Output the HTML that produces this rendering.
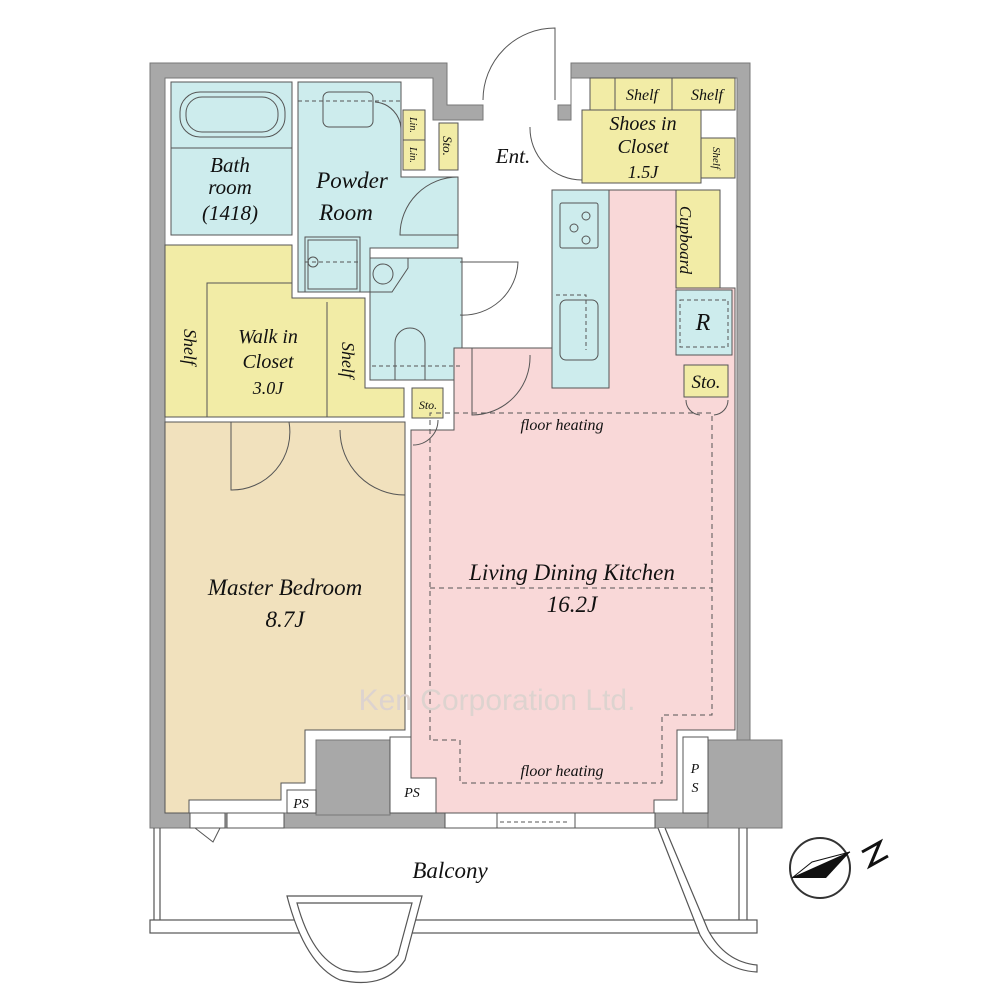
<!DOCTYPE html>
<html><head><meta charset="utf-8"><style>
html,body{margin:0;padding:0;background:#fff;}
svg{display:block;}
text{font-family:"Liberation Serif",serif;font-style:italic;fill:#111;}
</style></head><body>
<svg width="1000" height="1000" viewBox="0 0 1000 1000" xmlns="http://www.w3.org/2000/svg">
<!-- outer walls -->
<g fill="#a8a8a8" stroke="#777" stroke-width="1">
<path d="M150,63 H447 V105 H483 V120 H433 V78 H165 V813 H190 V828 H150 Z"/>
<path d="M558,120 V105 H571 V63 H750 V740 H782 V828 H655 V813 H737 V78 H571 V120 Z"/>
<rect x="190" y="813" width="465" height="15"/>
<rect x="316" y="740" width="74" height="75"/>
<rect x="708" y="740" width="74" height="88"/>
</g>
<!-- windows on bottom wall -->
<g fill="#fff" stroke="#555" stroke-width="1">
<rect x="190" y="813" width="35" height="15"/><rect x="227" y="813" width="57" height="15"/>
<rect x="445" y="813" width="52" height="15"/><rect x="497" y="813" width="78" height="15"/><rect x="575" y="813" width="80" height="15"/>
</g>
<line x1="500" y1="822" x2="570" y2="822" stroke="#555" stroke-dasharray="4,3"/>
<!-- rooms -->
<g stroke="#555" stroke-width="1">
<rect x="171" y="82" width="121" height="153" fill="#cdeced"/>
<line x1="171" y1="148" x2="292" y2="148"/>
<path d="M298,82 H401 V177 H458 V248 H370 V292 H298 Z" fill="#cdeced"/>
<rect x="305" y="237" width="55" height="55" fill="#cdeced"/>
<rect x="308" y="240" width="49" height="49" fill="none"/>
<rect x="370" y="258" width="92" height="122" fill="#cdeced"/>
<path d="M165,245 H292 V298 H365 V388 H404 V417 H165 Z" fill="#f2eca6"/>
<path d="M207,417 V283 H292 M327,302 V417" fill="none"/>
<path d="M165,422 H405 V730 H305 V783 H281 V800 H189 V813 H165 Z" fill="#f1e1bd"/>
<rect x="287" y="790" width="29" height="23" fill="#fff"/>
<path d="M390,737 H411 V778 H436 V813 H390 Z" fill="#fff"/>
<path d="M454,348 H552 V190 H676 V288 H735 V730 H677 V800 H654 V813 H436 V778 H411 V430 H454 Z" fill="#f9d8d8"/>
<rect x="683" y="737" width="25" height="76" fill="#fff"/>
<rect x="552" y="190" width="57" height="198" fill="#cdeced"/>
<rect x="676" y="190" width="44" height="98" fill="#f2eca6"/>
<rect x="676" y="290" width="56" height="65" fill="#cdeced"/>
<rect x="684" y="365" width="44" height="32" fill="#f2eca6"/>
<rect x="412" y="388" width="31" height="30" fill="#f2eca6"/>
<rect x="590" y="78" width="145" height="32" fill="#f2eca6"/>
<line x1="615" y1="78" x2="615" y2="110"/><line x1="672" y1="78" x2="672" y2="110"/>
<rect x="582" y="110" width="119" height="73" fill="#f2eca6"/>
<rect x="701" y="138" width="34" height="40" fill="#f2eca6"/>
<rect x="403" y="110" width="22" height="60" fill="#f2eca6"/>
<line x1="403" y1="140" x2="425" y2="140"/>
<rect x="439" y="123" width="19" height="47" fill="#f2eca6"/>
</g>
<!-- fixtures -->
<g fill="none" stroke="#555" stroke-width="1">
<rect x="180" y="92" width="105" height="45" rx="20"/><rect x="186" y="97" width="92" height="35" rx="16"/>
<rect x="323" y="92" width="50" height="35" rx="6"/>
<line x1="298" y1="101" x2="401" y2="101" stroke-dasharray="4,3"/>
<circle cx="313" cy="262" r="5"/><line x1="305" y1="262" x2="360" y2="262" stroke-dasharray="4,3"/>
<path d="M370,258 H408 V268 L392,292 H370 Z"/>
<circle cx="383" cy="274" r="10"/>
<path d="M395,380 V343 A15,15 0 0 1 425,343 V380"/>
<line x1="372" y1="366" x2="460" y2="366" stroke-dasharray="4,3"/>
<rect x="560" y="203" width="38" height="45" rx="2"/>
<circle cx="586" cy="216" r="4"/><circle cx="574" cy="228" r="4"/><circle cx="586" cy="240" r="4"/>
<rect x="560" y="300" width="38" height="60" rx="6"/>
<path d="M556,295 H586 V350" stroke-dasharray="4,3"/>
<path d="M430,740 V413 H712 V715 H662 V783 H460 V740 Z" stroke-dasharray="5,4"/>
<line x1="430" y1="588" x2="712" y2="588" stroke-dasharray="5,4"/>
<path d="M680,300 H728 V347 H680 Z" stroke-dasharray="4,3"/>
<!-- doors -->
<path d="M555,100 V28 A72,72 0 0 0 483,100"/>
<path d="M530,127 A52,52 0 0 0 582,180"/>
<path d="M458,177 A58,58 0 0 0 400,235 H458"/>
<path d="M460,262 H518 A55,55 0 0 1 460,315"/>
<path d="M472,348 V415 A58,58 0 0 0 530,355"/>
<path d="M231,422 V490 A58,58 0 0 0 289,422"/>
<path d="M340,430 A65,65 0 0 0 405,495"/>
<path d="M413,445 A25,25 0 0 0 438,420"/>
<path d="M401,130 A28,28 0 0 0 375,102"/>
<path d="M686,400 A15,15 0 0 0 700,415 M728,400 A15,15 0 0 1 714,415"/>
<path d="M195,828 L213,842 L220,828"/>
</g>
<!-- balcony -->
<g fill="none" stroke="#555" stroke-width="1.2">
<path d="M154,828 V920 M160,828 V920"/>
<path d="M739,828 V920 M747,828 V920"/>
<rect x="150" y="920" width="607" height="13" fill="#fff"/>
<path d="M287,896 H422 L405,960 Q385,990 340,980 Q305,965 287,896 Z" fill="#fff"/>
<path d="M297,903 H412 L398,955 Q380,978 343,970 Q312,958 297,903 Z"/>
<path d="M658,828 L700,935 Q720,970 757,972 V965 Q725,962 708,930 L665,828" fill="#fff"/>
</g>
<!-- compass -->
<circle cx="820" cy="868" r="30" fill="#fff" stroke="#333" stroke-width="2"/>
<path d="M792,878 L850,852 L826,878 Z" fill="#111"/>
<path d="M792,878 L850,852 L812,862 Z" fill="#fff" stroke="#111"/>
<path d="M862,852 L880,842 L870,866 L888,856" fill="none" stroke="#111" stroke-width="3"/>
<!-- watermark -->
<text x="497" y="710" font-size="30" text-anchor="middle" style="font-style:normal;font-family:'Liberation Sans',sans-serif;fill:#ddd3cf">Ken Corporation Ltd.</text>
<!-- labels -->
<g text-anchor="middle">
<text x="230" y="172" font-size="21">Bath</text><text x="230" y="194" font-size="21">room</text><text x="230" y="220" font-size="21">(1418)</text>
<text x="352" y="188" font-size="23">Powder</text><text x="346" y="220" font-size="23">Room</text>
<text x="513" y="163" font-size="21">Ent.</text>
<text x="643" y="130" font-size="20">Shoes in</text><text x="643" y="153" font-size="20">Closet</text><text x="643" y="178" font-size="18">1.5J</text>
<text x="642" y="100" font-size="16">Shelf</text><text x="707" y="100" font-size="16">Shelf</text>
<text x="268" y="343" font-size="20">Walk in</text><text x="268" y="368" font-size="20">Closet</text><text x="268" y="394" font-size="18">3.0J</text>
<text x="285" y="595" font-size="23">Master Bedroom</text><text x="285" y="627" font-size="23">8.7J</text>
<text x="572" y="580" font-size="23">Living Dining Kitchen</text><text x="572" y="612" font-size="23">16.2J</text>
<text x="562" y="430" font-size="16">floor heating</text><text x="562" y="776" font-size="16">floor heating</text>
<text x="703" y="330" font-size="24">R</text>
<text x="706" y="388" font-size="19">Sto.</text>
<text x="428" y="409" font-size="12">Sto.</text>
<text x="301" y="808" font-size="14">PS</text><text x="412" y="797" font-size="14">PS</text>
<text x="695" y="773" font-size="14">P</text><text x="695" y="792" font-size="14">S</text>
<text x="450" y="878" font-size="23">Balcony</text>
<text transform="translate(680,240) rotate(90)" font-size="17">Cupboard</text>
<text transform="translate(184,347) rotate(90)" font-size="18">Shelf</text>
<text transform="translate(342,360) rotate(90)" font-size="18">Shelf</text>
<text transform="translate(443,146) rotate(90)" font-size="13">Sto.</text>
<text transform="translate(410,125) rotate(90)" font-size="10">Lin.</text>
<text transform="translate(410,155) rotate(90)" font-size="10">Lin.</text>
<text transform="translate(713,158) rotate(90)" font-size="11">Shelf</text>
</g>
</svg>
</body></html>
